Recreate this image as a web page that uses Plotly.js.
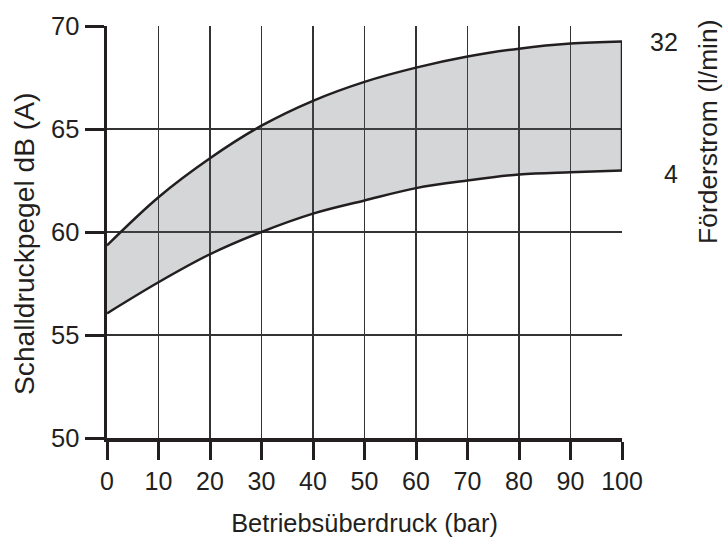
<!DOCTYPE html>
<html>
<head>
<meta charset="utf-8">
<script src="https://cdn.plot.ly/plotly-3.0.1.min.js"></script>
<style>html,body{margin:0;padding:0;background:#fff;}#chart{width:723px;height:537px;}</style>
</head>
<body>
<div id="chart"></div>
<script>
// Betriebsüberdruck (bar)
var pressure = [0, 10, 20, 30, 40, 50, 60, 70, 80, 90, 100];
// Schalldruckpegel dB(A), upper boundary (Förderstrom 32 l/min)
var upper32 = [59.35, 61.69, 63.58, 65.16, 66.37, 67.29, 67.98, 68.52, 68.90, 69.15, 69.25];
// Schalldruckpegel dB(A), lower boundary (Förderstrom 4 l/min)
var lower4 = [56.05, 57.56, 58.92, 60.00, 60.89, 61.53, 62.13, 62.50, 62.79, 62.90, 62.98];
// right-hand labels (Förderstrom, l/min)
var flowLabels = ['32', '4'];
var xTicks = [0, 10, 20, 30, 40, 50, 60, 70, 80, 90, 100];
var yTicks = [50, 55, 60, 65, 70];
var xTitle = 'Betriebsüberdruck (bar)';
var yTitle = 'Schalldruckpegel dB (A)';
var y2Title = 'Förderstrom (l/min)';

var ink = '#231f20';
var fnt = 'Liberation Sans, Arial, sans-serif';
var last = pressure.length - 1;

var traces = [
  {x: pressure, y: lower4, mode: 'lines', line: {color: ink, width: 2.5, shape: 'spline'}, hoverinfo: 'skip', showlegend: false},
  {x: pressure, y: upper32, mode: 'lines', fill: 'tonexty', fillcolor: 'rgba(90,95,105,0.26)',
   line: {color: ink, width: 2.5, shape: 'spline'}, hoverinfo: 'skip', showlegend: false},
  {x: [pressure[last], pressure[last]], y: [upper32[last], lower4[last]], mode: 'lines',
   line: {color: ink, width: 2.5}, hoverinfo: 'skip', showlegend: false}
];

var layout = {
  width: 723, height: 537,
  margin: {l: 107, r: 101, t: 26, b: 99},
  paper_bgcolor: '#ffffff', plot_bgcolor: '#ffffff',
  font: {family: fnt, color: ink},
  showlegend: false,
  xaxis: {
    range: [0, 100], tickvals: xTicks, ticktext: xTicks.map(String),
    showline: true, linewidth: 3.5, linecolor: ink,
    ticks: 'outside', ticklen: 18, tickwidth: 3, tickcolor: ink,
    showgrid: true, gridcolor: '#333333', gridwidth: 1.5, zeroline: false,
    tickfont: {size: 25, color: ink, family: fnt},
    title: {text: xTitle, font: {size: 25.4, color: ink, family: fnt}, standoff: 22},
    fixedrange: true
  },
  yaxis: {
    range: [50, 70], tickvals: yTicks, ticktext: yTicks.map(String),
    showline: true, linewidth: 3.5, linecolor: ink,
    ticks: 'outside', ticklen: 19, tickwidth: 3, tickcolor: ink,
    showgrid: true, gridcolor: '#333333', gridwidth: 1.5, zeroline: false,
    tickfont: {size: 25.5, color: ink, family: fnt},
    fixedrange: true
  },
  annotations: [
    {x: 0, y: 0.471, xref: 'paper', yref: 'paper', text: yTitle, textangle: -90, showarrow: false,
     xanchor: 'center', yanchor: 'middle', xshift: -83, font: {size: 28.2, color: ink, family: fnt}},
    {x: 1, y: 0.743, xref: 'paper', yref: 'paper', text: y2Title, textangle: -90, showarrow: false,
     xanchor: 'center', yanchor: 'middle', xshift: 86, font: {size: 26.4, color: ink, family: fnt}},
    {x: pressure[last], y: upper32[last], xref: 'x', yref: 'y', text: flowLabels[0], showarrow: false,
     xanchor: 'right', yanchor: 'middle', xshift: 58, yshift: -1, font: {size: 25, color: ink, family: fnt}},
    {x: pressure[last], y: lower4[last], xref: 'x', yref: 'y', text: flowLabels[1], showarrow: false,
     xanchor: 'right', yanchor: 'middle', xshift: 58, yshift: -3, font: {size: 25, color: ink, family: fnt}}
  ]
};

Plotly.newPlot('chart', traces, layout, {displayModeBar: false, staticPlot: true});
</script>
</body>
</html>
